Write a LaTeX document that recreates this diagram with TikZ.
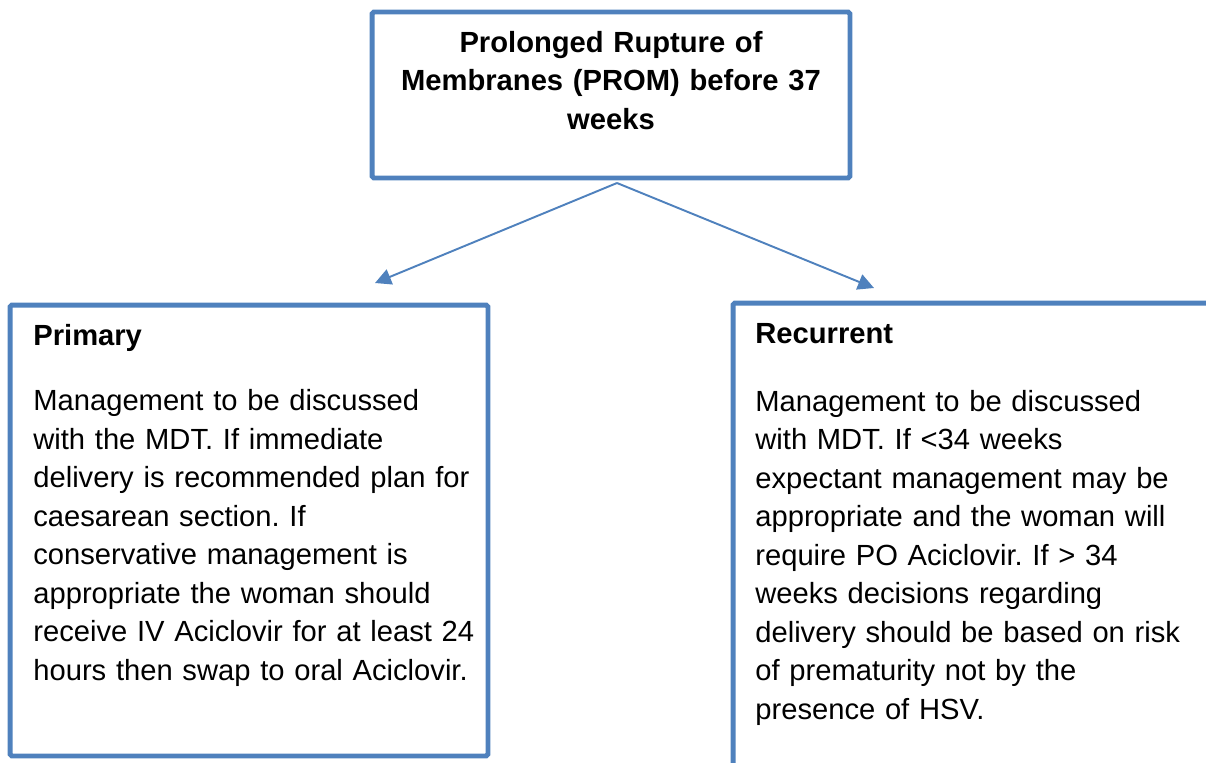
\documentclass[tikz,border=0pt]{standalone}
\usepackage{fontspec}
\setmainfont{Liberation Sans}
\usepackage{tikz}
\usetikzlibrary{arrows.meta,positioning}
\definecolor{boxblue}{RGB}{79,129,189}
\frenchspacing

\begin{document}
\begin{tikzpicture}[x=0.02cm,y=-0.02cm,
    box/.style={draw=boxblue,line width=2.8pt,rounded corners=1pt,inner sep=0pt},
    boxtext/.style={inner sep=0pt,text width=9.2cm,font=\fontsize{16.6}{21.9}\selectfont},
    link/.style={draw=boxblue,line width=1.1pt,-{Triangle[length=0.32cm,width=0.32cm]}}]
    \useasboundingbox (0,0) rectangle (1206,762);
    \clip (0,0) rectangle (1206,762);

    % boxes
    \node (prom) at (611,95) [box,minimum width=9.56cm,minimum height=3.32cm] {};
    \node (primary) at (249,530.5) [box,minimum width=9.56cm,minimum height=9.02cm] {};
    \node (recurrent) at (974,536.5) [box,minimum width=9.64cm,minimum height=9.34cm] {};

    % texts
    \node (promtext) at (611,52) [boxtext,anchor=base,align=center] {\bfseries Prolonged Rupture of\\[0.2pt]Membranes (PROM) before 37\\weeks};
    \node (primarytext) at (33,345) [boxtext,anchor=base west,align=left] {\textbf{Primary}\\[0.55cm]
        Management to be discussed\\
        with the MDT. If immediate\\
        delivery is recommended plan for\\
        caesarean section. If\\
        conservative management is\\
        appropriate the woman should\\
        receive IV Aciclovir for at least 24\\
        hours then swap to oral Aciclovir.};
    \node (recurrenttext) at (755,343) [boxtext,anchor=base west,align=left] {\textbf{Recurrent}\\[0.6cm]
        Management to be discussed\\
        with MDT. If <34 weeks\\
        expectant management may be\\
        appropriate and the woman will\\
        require PO Aciclovir. If > 34\\
        weeks decisions regarding\\
        delivery should be based on risk\\
        of prematurity not by the\\
        presence of HSV.};

    % arrows
    \coordinate (fork) at (617,183);
    \coordinate (primarytip) at (375,283);
    \coordinate (recurrenttip) at (874,288);
    \draw[link] (fork) -- (primarytip);
    \draw[link] (fork) -- (recurrenttip);
\end{tikzpicture}
\end{document}
